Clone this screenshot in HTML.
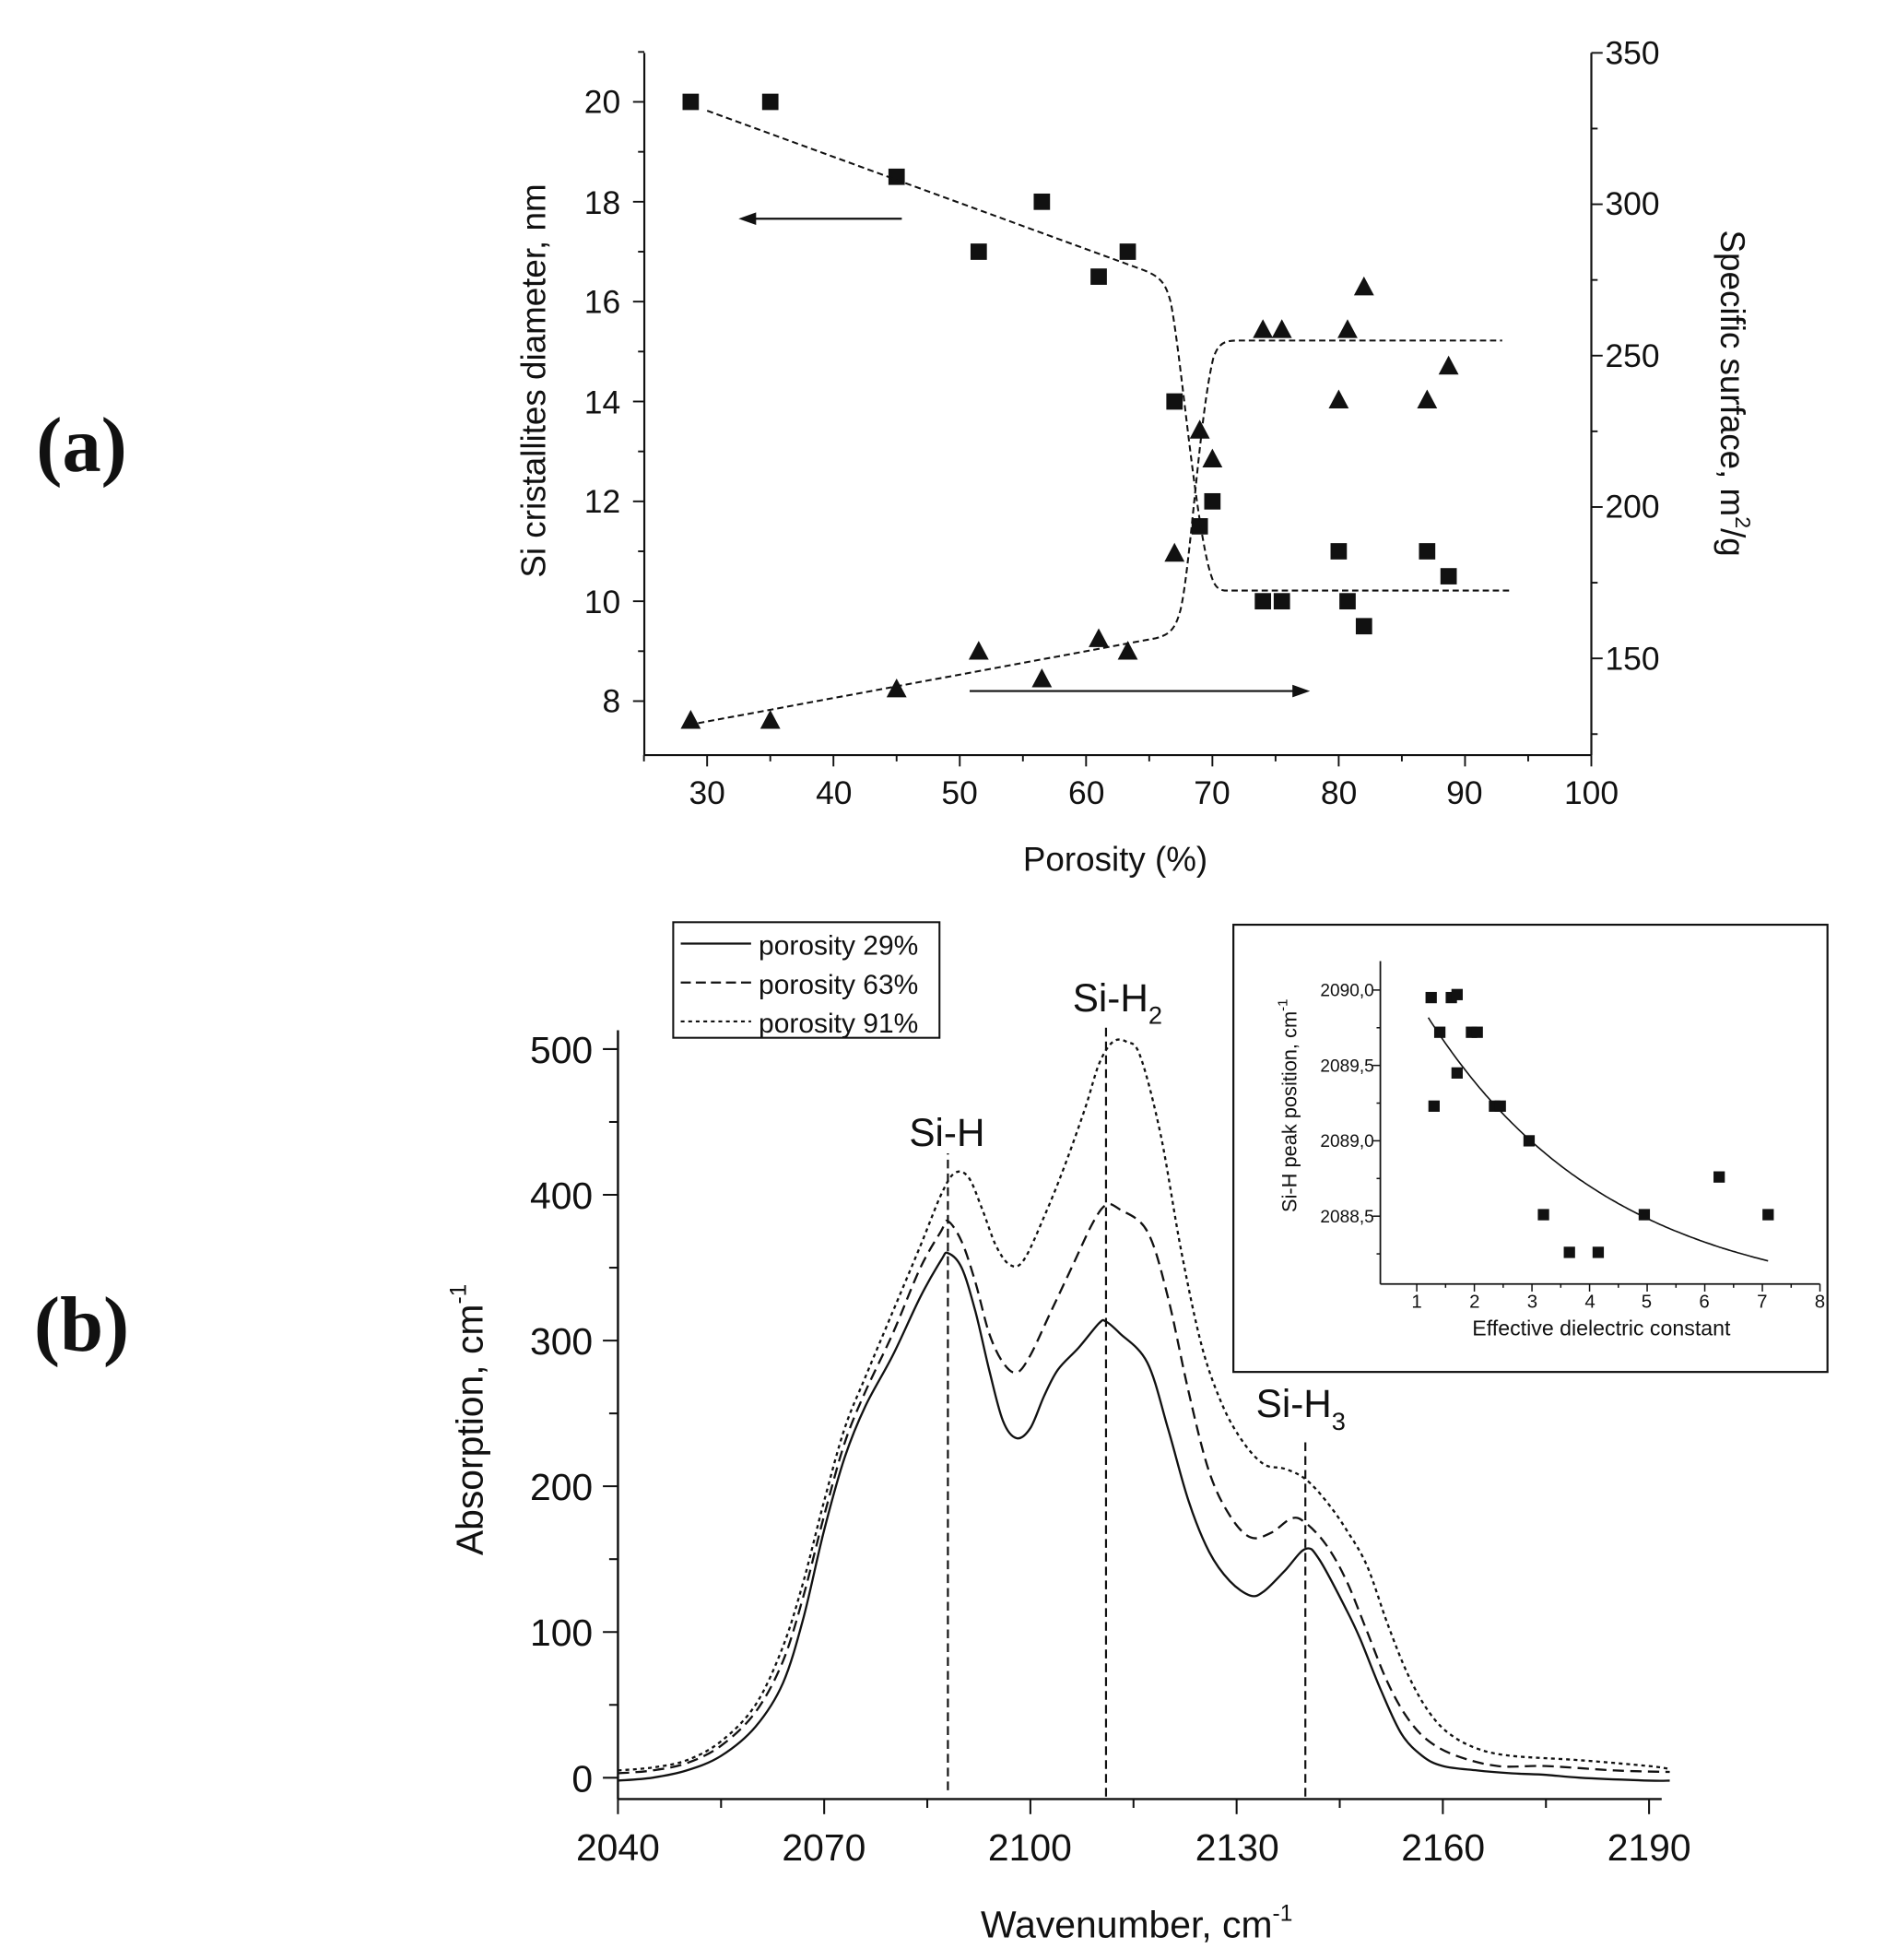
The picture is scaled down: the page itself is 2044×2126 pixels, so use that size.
<!DOCTYPE html>
<html><head><meta charset="utf-8"><style>
html,body{margin:0;padding:0;background:#fff}
svg{display:block}
text{font-family:"Liberation Sans",sans-serif;fill:#111}
</style></head><body>
<svg id="s" width="2044" height="2126" viewBox="0 0 1500 1560" xmlns="http://www.w3.org/2000/svg">
<rect width="1500" height="1560" fill="#fff"/>
<text x="65" y="375" text-anchor="middle" font-weight="bold" font-size="62" style="font-family:'Liberation Serif',serif">(a)</text>
<text x="65" y="1075" text-anchor="middle" font-weight="bold" font-size="62" style="font-family:'Liberation Serif',serif">(b)</text>

<g id="top"></g>
<g id="bot"></g>

<!-- top chart text -->
<g font-size="26" text-anchor="middle">
<text x="563" y="640">30</text><text x="664" y="640">40</text><text x="764" y="640">50</text><text x="865" y="640">60</text><text x="965" y="640">70</text><text x="1066" y="640">80</text><text x="1166" y="640">90</text><text x="1267" y="640">100</text>
</g>
<g font-size="26" text-anchor="end">
<text x="494" y="90">20</text><text x="494" y="170">18</text><text x="494" y="249">16</text><text x="494" y="329">14</text><text x="494" y="408">12</text><text x="494" y="488">10</text><text x="494" y="567">8</text>
</g>
<g font-size="26" text-anchor="start">
<text x="1278" y="51">350</text><text x="1278" y="171">300</text><text x="1278" y="292">250</text><text x="1278" y="412">200</text><text x="1278" y="533">150</text>
</g>
<text x="888" y="693" font-size="27" text-anchor="middle">Porosity (%)</text>
<text transform="translate(434,303) rotate(-90)" font-size="27" text-anchor="middle">Si cristallites diameter, nm</text>
<text transform="translate(1370,313) rotate(90)" font-size="27" text-anchor="middle">Specific surface, m<tspan font-size="17" dy="-12">2</tspan><tspan dy="12">/g</tspan></text>

<!-- bottom chart text -->
<g font-size="30" text-anchor="middle">
<text x="492" y="1481">2040</text><text x="656" y="1481">2070</text><text x="820" y="1481">2100</text><text x="985" y="1481">2130</text><text x="1149" y="1481">2160</text><text x="1313" y="1481">2190</text>
</g>
<g font-size="30" text-anchor="end">
<text x="472" y="1426">0</text><text x="472" y="1310">100</text><text x="472" y="1194">200</text><text x="472" y="1078">300</text><text x="472" y="962">400</text><text x="472" y="846">500</text>
</g>
<text x="905" y="1542" font-size="30" text-anchor="middle">Wavenumber, cm<tspan font-size="18" dy="-13">-1</tspan></text>
<text transform="translate(384,1130) rotate(-90)" font-size="30" text-anchor="middle">Absorption, cm<tspan font-size="18" dy="-13">-1</tspan></text>
<text x="754" y="912" font-size="31" text-anchor="middle">Si-H</text>
<text x="854" y="805" font-size="31">Si-H<tspan font-size="20" dy="10">2</tspan></text>
<text x="1000" y="1128" font-size="31">Si-H<tspan font-size="20" dy="10">3</tspan></text>

<!-- legend -->
<rect x="536" y="734" width="212" height="92" fill="#fff" stroke="#111" stroke-width="1.5"/>
<line x1="542" y1="751" x2="598" y2="751" stroke="#111" stroke-width="1.6"/>
<line x1="542" y1="782" x2="598" y2="782" stroke="#111" stroke-width="1.6" stroke-dasharray="8,4"/>
<line x1="542" y1="813" x2="598" y2="813" stroke="#111" stroke-width="1.6" stroke-dasharray="3,3"/>
<g font-size="22"><text x="604" y="760">porosity 29%</text><text x="604" y="791">porosity 63%</text><text x="604" y="822">porosity 91%</text></g>

<!-- inset -->
<rect x="982" y="736" width="473" height="356" fill="#fff" stroke="#111" stroke-width="1.6"/>
<g id="ins"></g>
<g font-size="14" text-anchor="end">
<text x="1094" y="793">2090,0</text><text x="1094" y="853">2089,5</text><text x="1094" y="913">2089,0</text><text x="1094" y="973">2088,5</text>
</g>
<g font-size="15" text-anchor="middle">
<text x="1128" y="1041">1</text><text x="1174" y="1041">2</text><text x="1220" y="1041">3</text><text x="1266" y="1041">4</text><text x="1311" y="1041">5</text><text x="1357" y="1041">6</text><text x="1403" y="1041">7</text><text x="1449" y="1041">8</text>
</g>
<text x="1275" y="1063" font-size="17" text-anchor="middle">Effective dielectric constant</text>
<text transform="translate(1032,880) rotate(-90)" font-size="16" text-anchor="middle">Si-H peak position, cm<tspan font-size="11" dy="-7">-1</tspan></text>
</svg>
<script>
var NS="http://www.w3.org/2000/svg";
function el(p,t,a){var e=document.createElementNS(NS,t);for(var k in a)e.setAttribute(k,a[k]);p.appendChild(e);return e;}
function smooth(pts){var d="M"+pts[0][0].toFixed(1)+","+pts[0][1].toFixed(1);
 for(var i=0;i<pts.length-1;i++){var p0=pts[i-1]||pts[i],p1=pts[i],p2=pts[i+1],p3=pts[i+2]||p2;
 var c1=[p1[0]+(p2[0]-p0[0])/6,p1[1]+(p2[1]-p0[1])/6],c2=[p2[0]-(p3[0]-p1[0])/6,p2[1]-(p3[1]-p1[1])/6];
 d+="C"+c1[0].toFixed(1)+","+c1[1].toFixed(1)+" "+c2[0].toFixed(1)+","+c2[1].toFixed(1)+" "+p2[0].toFixed(1)+","+p2[1].toFixed(1);}
 return d;}
var S="#111";
// ---------- top chart ----------
var T=document.getElementById("top");
var X=function(v){return 563+(v-30)*10.057;}, YL=function(v){return 81+(20-v)*39.75;};
el(T,"line",{x1:513,y1:42,x2:513,y2:601,stroke:S,"stroke-width":1.6});
el(T,"line",{x1:1267,y1:42,x2:1267,y2:601,stroke:S,"stroke-width":1.6});
el(T,"line",{x1:513,y1:601,x2:1267,y2:601,stroke:S,"stroke-width":1.6});
for(var v=25;v<=100;v+=5){var x=X(v);el(T,"line",{x1:x,y1:601,x2:x,y2:v%10==0?610:606,stroke:S,"stroke-width":1.4});}
for(var v=8;v<=21;v++){var y=YL(v);el(T,"line",{x1:513,y1:y,x2:v%2==0?504:508,y2:y,stroke:S,"stroke-width":1.4});}
for(var v=125;v<=350;v+=25){var y=42+(350-v)*2.41;el(T,"line",{x1:1267,y1:y,x2:v%50==0?1276:1272,y2:y,stroke:S,"stroke-width":1.4});}
var sq=[[28.7,20],[35,20],[45,18.5],[51.5,17],[56.5,18],[61,16.5],[63.3,17],[67,14],[69,11.5],[70,12],[74,10],[75.5,10],[80,11],[80.7,10],[82,9.5],[87,11],[88.7,10.5]];
sq.forEach(function(p){el(T,"rect",{x:X(p[0])-6.5,y:YL(p[1])-6.5,width:13,height:13,fill:S});});
var tr=[[28.7,573],[35,573],[45,548],[51.5,518],[56.5,540],[61,508],[63.3,518],[67,440],[69,342],[70,365],[74,262],[75.5,262],[80,318],[80.7,262],[82,228],[87,318],[88.7,291]];
tr.forEach(function(p){var x=X(p[0]),y=p[1];el(T,"polygon",{points:(x-8)+","+(y+7)+" "+(x+8)+","+(y+7)+" "+x+","+(y-8),fill:S});});
el(T,"path",{d:"M563,88 L908,214 C925,220 928,226 932,240 C940,280 950,400 962,450 C966,465 968,469 975,470 L1202,470",fill:"none",stroke:S,"stroke-width":1.5,"stroke-dasharray":"5,3"});
el(T,"path",{d:"M548,577 L920,508 C932,505 936,500 940,485 C948,450 955,330 966,285 C970,273 975,271 985,271 L1196,271",fill:"none",stroke:S,"stroke-width":1.5,"stroke-dasharray":"5,3"});
el(T,"line",{x1:718,y1:174,x2:598,y2:174,stroke:S,"stroke-width":1.6});
el(T,"polygon",{points:"588,174 602,169 602,179",fill:S});
el(T,"line",{x1:772,y1:550,x2:1032,y2:550,stroke:S,"stroke-width":1.6});
el(T,"polygon",{points:"1043,550 1029,545 1029,555",fill:S});
// ---------- bottom chart ----------
var B=document.getElementById("bot");
var BX=function(v){return 492+(v-2040)*5.473;}, BY=function(v){return 1415-v*1.16;};
el(B,"line",{x1:492,y1:820,x2:492,y2:1432,stroke:S,"stroke-width":1.8});
el(B,"line",{x1:492,y1:1432,x2:1323,y2:1432,stroke:S,"stroke-width":1.8});
for(var v=2040;v<=2190;v+=15){var x=BX(v);el(B,"line",{x1:x,y1:1432,x2:x,y2:v%30==0?1444:1439,stroke:S,"stroke-width":1.5});}
for(var v=0;v<=500;v+=50){var y=BY(v);el(B,"line",{x1:492,y1:y,x2:v%100==0?480:485,y2:y,stroke:S,"stroke-width":1.5});}
function curve(d,dash){var pts=[];for(var i=0;i<d.length;i+=2)pts.push([BX(d[i]),BY(d[i+1])]);
 var a={d:smooth(pts),fill:"none",stroke:S,"stroke-width":1.7};if(dash)a["stroke-dasharray"]=dash;el(B,"path",a);}
curve([2040,-2,2045,0,2050,5,2055,15,2060,35,2064,65,2067,110,2070,170,2073,220,2076,255,2080,290,2084,330,2087,355,2088,360,2090,350,2092,320,2094,280,2096,245,2098,233,2100,240,2102,262,2104,280,2107,295,2110,312,2111,313,2113,305,2117,285,2120,240,2123,190,2126,155,2129,135,2132,125,2134,128,2137,142,2140,157,2142,150,2146,115,2148,95,2151,60,2154,30,2157,15,2160,8,2165,5,2170,3,2175,2,2180,0,2190,-2,2193,-2],null);
curve([2040,3,2045,5,2050,10,2055,22,2060,45,2064,80,2067,125,2070,180,2073,230,2076,265,2080,305,2084,350,2087,375,2088,382,2090,368,2092,340,2094,305,2096,285,2098,278,2100,290,2103,320,2106,350,2109,380,2111,393,2113,390,2117,375,2120,330,2123,265,2126,210,2129,180,2132,165,2135,168,2138,178,2140,175,2143,160,2146,135,2149,100,2152,65,2155,40,2158,25,2162,15,2168,8,2175,8,2185,5,2193,4],"9,5");
curve([2040,5,2045,7,2050,12,2055,25,2060,50,2064,90,2067,135,2070,190,2073,240,2076,275,2080,320,2084,365,2087,400,2089,415,2091,412,2093,390,2095,365,2097,352,2099,355,2102,385,2105,420,2108,460,2110,490,2112,505,2114,505,2116,495,2119,440,2122,360,2125,295,2128,255,2131,230,2134,215,2137,212,2140,205,2143,190,2146,170,2149,145,2152,105,2155,70,2158,45,2161,30,2165,20,2170,15,2180,12,2190,8,2193,6],"3,3");
[[2088,1425,918],[2111,1430,815],[2140,1430,1148]].forEach(function(l){var x=BX(l[0]);el(B,"line",{x1:x,y1:l[1],x2:x,y2:l[2],stroke:S,"stroke-width":1.6,"stroke-dasharray":"7,4"});});
// ---------- inset ----------
var I=document.getElementById("ins");
var IX=function(v){return 1128+(v-1)*45.86;}, IY=function(v){return 788+(2090-v)*120;};
el(I,"line",{x1:1099,y1:765,x2:1099,y2:1022,stroke:S,"stroke-width":1.3});
el(I,"line",{x1:1099,y1:1022,x2:1449,y2:1022,stroke:S,"stroke-width":1.3});
for(var v=1;v<=8;v+=0.5){var x=IX(v);el(I,"line",{x1:x,y1:1022,x2:x,y2:v%1==0?1028:1025,stroke:S,"stroke-width":1.1});}
for(var v=2088.25;v<=2090.01;v+=0.25){var y=IY(v);el(I,"line",{x1:1099,y1:y,x2:Math.abs(v*2-Math.round(v*2))<0.01?1093:1096,y2:y,stroke:S,"stroke-width":1.1});}
var ip=[];for(var x=1.2;x<=7.11;x+=0.1){ip.push([IX(x),IY(2087.9+2.79*Math.exp(-x/3.2))]);}
el(I,"path",{d:smooth(ip),fill:"none",stroke:S,"stroke-width":1.2});
[[1.25,2089.95],[1.6,2089.95],[1.7,2089.97],[1.4,2089.72],[1.95,2089.72],[2.05,2089.72],[1.7,2089.45],[1.3,2089.23],[2.35,2089.23],[2.45,2089.23],[2.95,2089.0],[3.2,2088.51],[3.65,2088.26],[4.15,2088.26],[4.95,2088.51],[6.25,2088.76],[7.1,2088.51]].forEach(function(p){el(I,"rect",{x:IX(p[0])-4.5,y:IY(p[1])-4.5,width:9,height:9,fill:S});});
</script>
</body></html>
